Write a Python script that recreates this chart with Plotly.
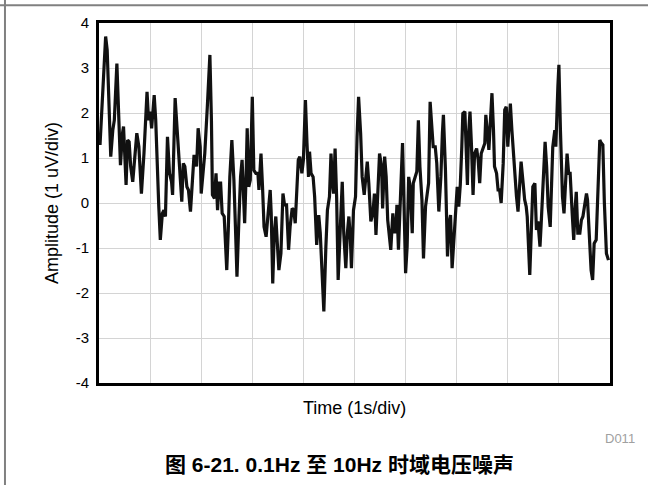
import plotly.graph_objects as go

# Time (s) and noise amplitude (uV)
time_s = [
    0.02, 0.07, 0.13, 0.16, 0.20, 0.23, 0.27, 0.30, 0.35, 0.38, 0.42, 0.46, 0.48, 0.53, 0.56, 0.59,
    0.62, 0.66, 0.70, 0.74, 0.78, 0.83, 0.88, 0.91, 0.94, 0.97, 1.00, 1.03, 1.08, 1.11, 1.14, 1.17,
    1.20, 1.24, 1.27, 1.30, 1.32, 1.34, 1.38, 1.42, 1.44, 1.47, 1.49, 1.53, 1.57, 1.59, 1.62, 1.65,
    1.68, 1.72, 1.75, 1.79, 1.83, 1.86, 1.89, 1.91, 1.94, 1.98, 2.00, 2.04, 2.07, 2.12, 2.17, 2.20,
    2.22, 2.26, 2.29, 2.32, 2.35, 2.38, 2.41, 2.45, 2.50, 2.53, 2.56, 2.60, 2.64, 2.67, 2.70, 2.74,
    2.77, 2.80, 2.82, 2.85, 2.88, 2.90, 2.93, 2.96, 3.00, 3.03, 3.07, 3.11, 3.13,
    3.17, 3.20, 3.23, 3.27, 3.31, 3.35, 3.37, 3.40, 3.43, 3.46, 3.49, 3.52, 3.56, 3.60, 3.63, 3.67,
    3.71, 3.74, 3.78, 3.81, 3.84, 3.87, 3.90, 3.93, 3.97, 4.00, 4.04, 4.07, 4.10, 4.12, 4.15, 4.19,
    4.22, 4.26, 4.30, 4.33, 4.36, 4.40, 4.44, 4.47, 4.51, 4.54, 4.57, 4.59, 4.62, 4.65, 4.68, 4.72,
    4.76, 4.79, 4.83, 4.86, 4.89, 4.92, 4.94, 4.98, 5.02, 5.05, 5.08, 5.12, 5.15, 5.19, 5.22, 5.25,
    5.28, 5.32, 5.36, 5.39, 5.42, 5.46, 5.49, 5.53, 5.55, 5.59, 5.62, 5.65, 5.68, 5.71, 5.75, 5.78,
    5.81, 5.83, 5.86, 5.90, 5.94, 5.97, 6.00, 6.03, 6.06, 6.09, 6.13, 6.15, 6.19, 6.22, 6.25, 6.28,
    6.32, 6.35, 6.39, 6.42, 6.45,
    6.48, 6.52, 6.54, 6.58, 6.61, 6.65, 6.69, 6.72, 6.74, 6.78, 6.82, 6.85, 6.88, 6.91, 6.95, 6.98,
    7.01, 7.04, 7.07, 7.10, 7.12, 7.16, 7.19, 7.21, 7.23, 7.26, 7.29, 7.32, 7.35, 7.39, 7.42, 7.45,
    7.48, 7.51, 7.55, 7.57, 7.60, 7.63, 7.65, 7.69, 7.72, 7.74, 7.78, 7.81, 7.84, 7.87, 7.91, 7.94,
    7.97, 8.00, 8.03, 8.05, 8.08, 8.11, 8.15, 8.17, 8.20, 8.23, 8.26, 8.30, 8.33, 8.36, 8.38, 8.43,
    8.46, 8.49, 8.53, 8.56, 8.59, 8.63, 8.65, 8.69, 8.73, 8.76, 8.79, 8.83, 8.85, 8.88, 8.92, 8.94,
    8.98, 9.00, 9.03, 9.07, 9.10, 9.13, 9.16, 9.19, 9.22, 9.26, 9.29, 9.32, 9.34, 9.37, 9.41, 9.44,
    9.47, 9.50, 9.54, 9.56, 9.59, 9.63, 9.66, 9.69, 9.73, 9.76, 9.80, 9.83, 9.86, 9.89, 9.93, 9.97,
]

amplitude_uv = [
    1.29, 2.44, 3.70, 3.40, 2.20, 1.03, 1.62, 1.84, 3.10, 2.20, 0.84, 1.55, 1.70, 0.40, 1.40, 1.36,
    0.81, 0.47, 0.96, 1.55, 1.25, 0.21, 1.10, 1.77, 2.47, 1.84, 2.03, 1.66, 2.40, 1.84, 0.73, -0.08,
    -0.82, -0.23, -0.16, -0.30, 0.58, 1.47, 0.66, 0.47, 0.18, 1.55, 2.33, 1.62, 0.88, 0.51, 0.03, 0.88,
    0.81, 0.36, 0.29, -0.19, 0.58, 1.07, 0.96, 0.81, 1.66, 1.25, 0.21, 0.81, 1.10, 2.14, 3.29, 1.84,
    0.18, 0.10, 0.66, -0.16, 0.44, 0.44, -0.23, -0.30, -1.49, -0.60, 0.58, 1.40, 0.51, -0.53, -1.64, -0.30,
    0.58, 0.96, 0.21, -0.45, 0.66, 1.66, 0.36, 0.51, 2.36, 0.73, 0.66, 0.66, 0.29,
    1.10, 0.36, -0.53, -0.75, -0.23, 0.29, -0.23, -1.79, -0.67, -0.30, -0.90, -1.49, -1.12, 0.21, -0.04, -0.04,
    -1.04, -0.53, -0.12, -0.15, -0.45, 0.36, 0.96, 1.03, 0.66, 0.96, 2.29, 1.33, 0.58, 1.14, 0.66, 0.58,
    0.14, -0.93, -0.27, -0.67, -1.34, -2.41, -0.97, -0.16, 0.14, 1.10, 0.44, 0.21, 1.21, 0.14, -1.71, -0.75,
    0.47, -0.67, -1.45, -0.67, -0.30, -0.82, -1.45, -0.16, 0.14, 1.47, 2.36, 1.55, 0.58, 0.18, 0.58, 0.92,
    0.44, -0.41, -0.23, 0.21, -0.71, 0.36, 1.10, 0.81, -0.12, 1.03, 0.58, -0.38, -0.82, -1.04, -0.23, -0.64,
    -0.64, -0.04, -1.04, 0.07, 1.33, -0.08, -1.56, -0.97, 0.58, 0.36, -0.67, 0.44, 0.58, 0.70, 1.84, 0.81,
    0.07, -1.23, -0.08, 0.21, 0.44,
    2.25, 1.62, 1.25, 1.25, 0.88, -0.19, 0.58, 1.55, 1.96, 0.73, -1.19, -0.45, -0.27, -1.45, -0.82, -0.23,
    0.36, -0.08, 0.40, 1.25, 1.99, 2.03, 1.10, 0.40, 1.47, 2.03, 1.25, 0.18, 1.10, 1.21, 0.96, 0.44,
    1.10, 1.21, 1.33, 1.96, 1.47, 1.18, 1.62, 2.44, 1.62, 0.81, 0.66, 0.29, 0.29, 0.00, 0.88, 2.07,
    2.14, 1.25, 1.84, 2.21, 1.62, 1.03, 0.51, 0.14, -0.19, 0.29, 0.92, 0.44, 0.07, -0.08, -0.30, -1.60,
    -0.60, 0.36, 0.44, -0.60, -0.41, -0.97, -0.53, 0.51, 1.36, 0.81, -0.08, -0.53, 0.36, 1.25, 1.62, 1.25,
    2.59, 3.07, 1.62, 0.14, -0.23, 0.58, 1.10, 0.66, 0.66, -0.23, -0.82, -0.08, 0.25, -0.67, -0.67, -0.38,
    -0.30, -0.08, 0.21, 0.07, -0.67, -1.49, -1.71, -0.90, -0.82, 0.00, 1.40, 1.33, 1.29, 0.00, -1.12, -1.27,
]

y_ticks = [4, 3, 2, 1, 0, -1, -2, -3, -4]
y_tick_labels = ["4", "3", "2", "1", "0", "-1", "-2", "-3", "-4"]

FONT = "Arial, Liberation Sans, Noto Sans CJK SC, sans-serif"

fig = go.Figure()
fig.add_trace(go.Scatter(
    x=time_s, y=amplitude_uv, mode="lines",
    line=dict(color="#111111", width=3.2), hoverinfo="skip", showlegend=False,
))

fig.update_layout(
    width=648, height=485,
    margin=dict(l=99, r=38, t=23, b=102),
    paper_bgcolor="white", plot_bgcolor="white",
    font=dict(family=FONT, size=15, color="black"),
    xaxis=dict(
        range=[0, 10], dtick=1, tick0=0, showticklabels=False,
        showgrid=True, gridcolor="#d4d4d4", gridwidth=1,
        showline=True, linecolor="black", linewidth=3, mirror=True,
        zeroline=False, ticks="",
    ),
    yaxis=dict(
        range=[-4, 4], tickvals=y_ticks, ticktext=y_tick_labels,
        showgrid=True, gridcolor="#d4d4d4", gridwidth=1,
        showline=True, linecolor="black", linewidth=3, mirror=True,
        zeroline=False, ticks="", ticklabelstandoff=4,
        tickfont=dict(size=15),
    ),
    shapes=[
        # page frame: top and left edges
        dict(type="line", xref="paper", yref="paper", x0=-0.2, x1=1.08, y0=1.049, y1=1.049,
             line=dict(color="#808080", width=2)),
        dict(type="line", xref="paper", yref="paper", x0=-0.184, x1=-0.184, y0=1.08, y1=-0.3,
             line=dict(color="#808080", width=2)),
    ],
    annotations=[
        dict(text="Amplitude (1 uV/div)", xref="paper", yref="paper", x=-0.092, y=0.5,
             xanchor="center", yanchor="middle", textangle=-90, showarrow=False,
             font=dict(size=18, color="black")),
        dict(text="Time (1s/div)", xref="paper", yref="paper", x=0.5, y=-0.0694,
             xanchor="center", yanchor="middle", showarrow=False,
             font=dict(size=18, color="black")),
        dict(text="D011", xref="paper", yref="paper", x=1.0528, y=-0.1528, xanchor="right",
             yanchor="middle", showarrow=False, font=dict(size=13, color="#a0a0a0")),
        dict(text="<b>图 6-21. 0.1Hz 至 10Hz 时域电压噪声</b>", xref="paper", yref="paper",
             x=0.47, y=-0.226, xanchor="center", yanchor="middle", showarrow=False,
             font=dict(size=21, color="black")),
    ],
)

fig.write_html("out.html", config={"displayModeBar": False},
               post_script="document.body.style.margin='0px';")
